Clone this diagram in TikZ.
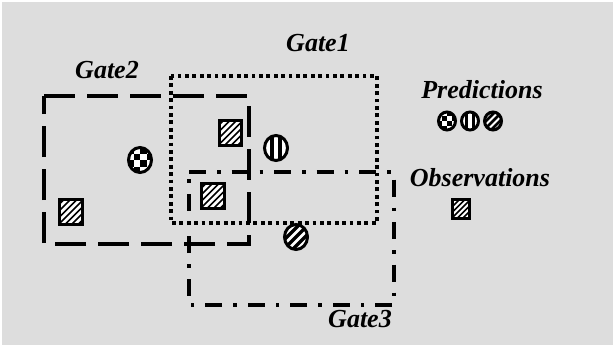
\documentclass[tikz,border=0pt]{standalone}
\usepackage{fontspec}
\setmainfont{Liberation Serif}
\usetikzlibrary{shapes.geometric}
\definecolor{bggray}{RGB}{221,221,221}
\begin{document}
\begin{tikzpicture}[x=1pt,y=-1pt,
  lbl/.style={font=\fontsize{26}{30}\selectfont\bfseries\itshape, inner sep=0pt, anchor=base},
  gateone/.style={line width=4pt, dash pattern=on 3.8pt off 3.6pt},
  gatetwo/.style={line width=4pt, dash pattern=on 31pt off 12pt},
  gatethree/.style={line width=4pt, dash pattern=on 17pt off 11pt on 3.5pt off 11pt},
  sym/.style={ellipse, draw, line width=3pt, fill=white, inner sep=0pt},
  bigsym/.style={minimum width=23pt, minimum height=25pt},
  smallsym/.style={minimum width=17pt, minimum height=18pt},
  checker/.style={sym, path picture={
    \foreach \i in {-3,...,2}{\foreach \j in {-3,...,2}{
      \pgfmathtruncatemacro\chk{mod(\i+\j+6,2)}
      \ifnum\chk=0
        \fill[black, shift={(path picture bounding box.center)}] ({\i*#1},{\j*#1}) rectangle ++(#1,#1);
      \fi}}}},
  vstripes/.style={sym, path picture={
    \foreach \s in {-1,1}{
      \fill[black, shift={(path picture bounding box.center)}] ({\s*#1-0.45*#1},-20) rectangle ++({0.9*#1},40);}}},
  dstripes/.style={sym, path picture={
    \foreach \k in {-3,...,3}{
      \draw[black, line width=0.38*#1 pt, shift={(path picture bounding box.center)}] ({\k*#1-20},20) -- ({\k*#1+20},-20);}}},
  hatch/.style={rectangle, draw, line width=2.6pt, fill=white, inner sep=0pt, path picture={
    \foreach \k in {-6,...,6}{
      \draw[black, line width=0.27*#1 pt, shift={(path picture bounding box.center)}] ({\k*#1-20},20) -- ({\k*#1+20},-20);}}},
  bighatch/.style={hatch=6.5, minimum width=22.5pt, minimum height=25.5pt},
  smallhatch/.style={hatch=5.5, minimum width=17.5pt, minimum height=18.5pt}
]
% page and background
\fill[white] (0,0) rectangle (613,345);
\fill[bggray] (2,2) rectangle (613,345);
\useasboundingbox (0,0) rectangle (613,345);

% the three gates
\draw[gateone] (171,76) rectangle (377,223);
\draw[gatetwo] (44,96) -- (249,96) -- (249,244) -- (44,244) -- cycle;
\draw[gatethree] (189,172) -- (394,172) -- (394,305) -- (189,305) -- cycle;

% gate labels
\node[lbl] (g1label) at (318,52) {Gate1};
\node[lbl] (g2label) at (107,78) {Gate2};
\node[lbl] (g3label) at (360,327) {Gate3};

% observations inside the gates
\node[bighatch] (obsA) at (230.5,133) {};
\node[bighatch] (obsB) at (213,196) {};
\node[bighatch] (obsC) at (71,212) {};

% predictions inside the gates
\node[checker=6.5, bigsym] (predA) at (140,160) {};
\node[vstripes=4.4, bigsym] (predB) at (276,148) {};
\node[dstripes=9, bigsym] (predC) at (296,237) {};

% legend
\node[lbl] (predlabel) at (482,98) {Predictions};
\node[checker=5, smallsym] (legA) at (447,121) {};
\node[vstripes=3.4, smallsym] (legB) at (470,121) {};
\node[dstripes=7, smallsym] (legC) at (493,121) {};
\node[lbl] (obslabel) at (480,186) {Observations};
\node[smallhatch] (legD) at (461,209) {};
\end{tikzpicture}
\end{document}
